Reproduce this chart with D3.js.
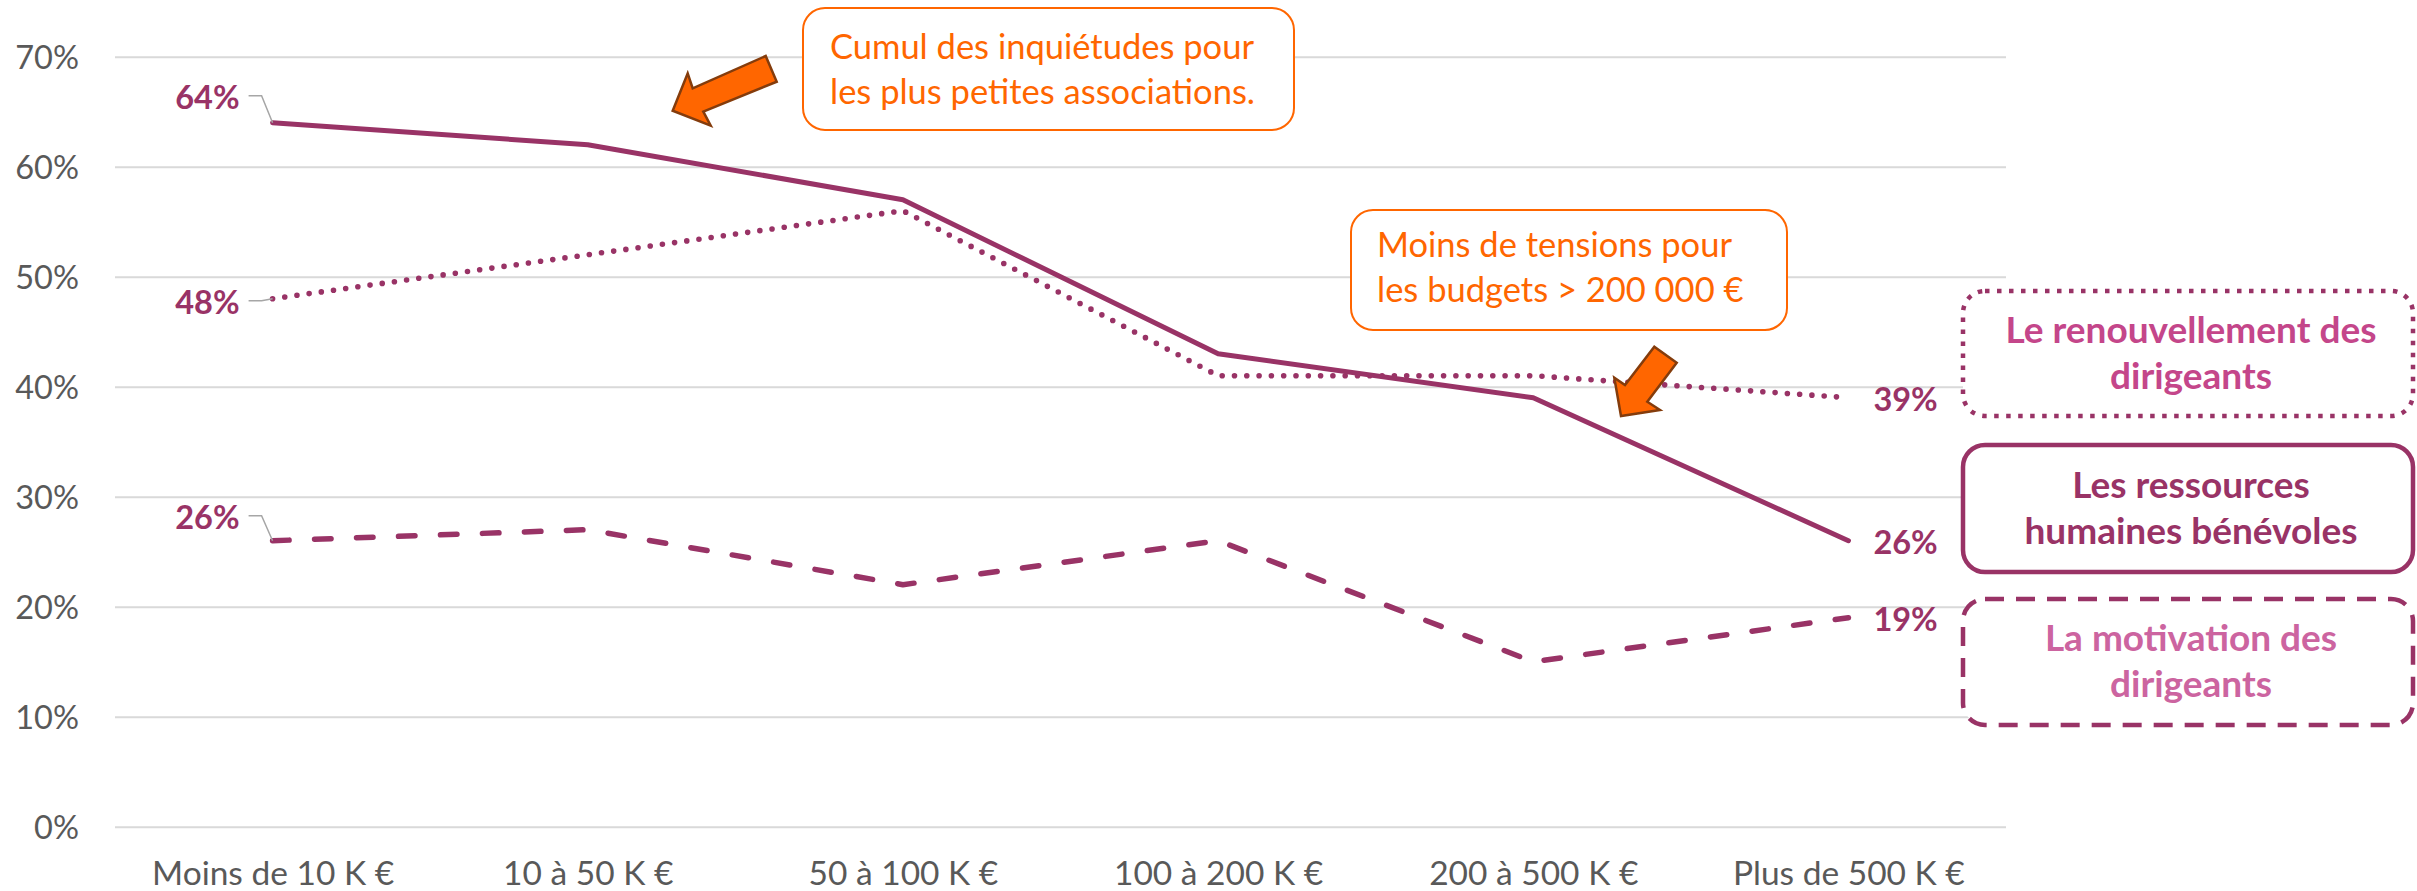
<!DOCTYPE html>
<html>
<head>
<meta charset="utf-8">
<script src="https://cdn.jsdelivr.net/npm/d3@7"></script>
<style>
  body { margin: 0; background: #fff; }
  text { font-family: Lato, "Open Sans", sans-serif; }
</style>
</head>
<body>
<script>
// budget classes
var categories = ["Moins de 10 K €", "10 à 50 K €", "50 à 100 K €",
                  "100 à 200 K €", "200 à 500 K €", "Plus de 500 K €"];
// % of associations worried, per budget class
var ressources = [64, 62, 57, 43, 39, 26];
var renouvellement = [48, 52, 56, 41, 41, 39];
var motivation = [26, 27, 22, 26, 15, 19];
var yTicks = [0, 10, 20, 30, 40, 50, 60, 70];
var legendLabels = [["Le renouvellement des", "dirigeants"],
                    ["Les ressources", "humaines bénévoles"],
                    ["La motivation des", "dirigeants"]];
var noteLabels = [["Cumul des inquiétudes pour", "les plus petites associations."],
                  ["Moins de tensions pour", "les budgets > 200 000 €"]];

var width = 2417;
var height = 891;
var plum = "#993366";
var orange = "#ff6600";

var svg = d3.select("body")
  .append("svg")
  .attr("width", width)
  .attr("height", height);

var x = d3.scalePoint()
  .domain(categories)
  .range([115, 2006])
  .padding(0.5);

var y = d3.scaleLinear()
  .domain([0, 70])
  .range([826.7, 56.7]);

// gridlines and y labels
var yAxis = svg.append("g")
  .attr("transform", "translate(115,0)")
  .call(d3.axisLeft(y)
    .tickValues(yTicks)
    .tickSize(-(2006 - 115))
    .tickPadding(36)
    .tickFormat(function(d) { return d + "%"; }));
yAxis.attr("font-size", 32.5).attr("font-family", "Lato, sans-serif");
yAxis.select(".domain").remove();
yAxis.selectAll("line").attr("stroke", "#d9d9d9").attr("stroke-width", 2);
yAxis.selectAll("text").attr("fill", "#595959").attr("dy", "0.36em");

// category labels
var xAxis = svg.append("g")
  .attr("transform", "translate(0," + y(0) + ")")
  .call(d3.axisBottom(x).tickSize(0).tickPadding(35));
xAxis.attr("font-size", 33.5).attr("font-family", "Lato, sans-serif");
xAxis.select(".domain").remove();
xAxis.selectAll("text").attr("fill", "#595959");

var series = [
  { values: renouvellement, dash: "0,12.3", width: 5.6, firstDy: 4,
    box: [291, 416], boxDash: "4.5,7.5", textColor: "#c4468a", label: legendLabels[0] },
  { values: ressources, dash: null, width: 5, firstDy: -25,
    box: [445, 572], boxDash: null, textColor: plum, label: legendLabels[1] },
  { values: motivation, dash: "16.5,25.5", width: 5.5, firstDy: -23,
    box: [599, 725], boxDash: "19,12", textColor: "#cc64a0", label: legendLabels[2] }
];

var line = d3.line()
  .x(function(d, i) { return x(categories[i]); })
  .y(function(d) { return y(d); });

svg.selectAll("path.serie")
  .data(series)
  .enter()
  .append("path")
  .attr("class", "serie")
  .attr("d", function(s) { return line(s.values); })
  .attr("fill", "none")
  .attr("stroke", plum)
  .attr("stroke-width", function(s) { return s.width; })
  .attr("stroke-linecap", "round")
  .attr("stroke-linejoin", "round")
  .attr("stroke-dasharray", function(s) { return s.dash; });

// leader lines for the first labels
var x0 = x(categories[0]);
var xN = x(categories[categories.length - 1]);
svg.selectAll("path.leader")
  .data(series)
  .enter()
  .append("path")
  .attr("class", "leader")
  .attr("d", function(s) {
    var v = s.values[0];
    var ly = y(v) + s.firstDy - 2;
    return "M" + (x0 - 24) + "," + ly + "H" + (x0 - 11) + "L" + x0 + "," + y(v);
  })
  .attr("fill", "none")
  .attr("stroke", "#a6a6a6")
  .attr("stroke-width", 1.5);

svg.selectAll("text.first")
  .data(series)
  .enter()
  .append("text")
  .attr("class", "first")
  .text(function(s) { return s.values[0] + "%"; })
  .attr("x", x0 - 33)
  .attr("y", function(s) { return y(s.values[0]) + s.firstDy; })
  .attr("dy", "0.36em")
  .attr("text-anchor", "end")
  .attr("font-size", 32.5)
  .attr("font-weight", "bold")
  .attr("fill", plum);

svg.selectAll("text.last")
  .data(series)
  .enter()
  .append("text")
  .attr("class", "last")
  .text(function(s) { return s.values[s.values.length - 1] + "%"; })
  .attr("x", xN + 25)
  .attr("y", function(s) { return y(s.values[s.values.length - 1]) + 2; })
  .attr("dy", "0.36em")
  .attr("font-size", 32.5)
  .attr("font-weight", "bold")
  .attr("fill", plum);

// legend boxes on the right
var legend = svg.selectAll("g.legend")
  .data(series)
  .enter()
  .append("g")
  .attr("class", "legend");

legend.append("rect")
  .attr("x", 1963)
  .attr("y", function(s) { return s.box[0]; })
  .attr("width", 450)
  .attr("height", function(s) { return s.box[1] - s.box[0]; })
  .attr("rx", 22)
  .attr("fill", "#fff")
  .attr("stroke", plum)
  .attr("stroke-width", 4.5)
  .attr("stroke-dasharray", function(s) { return s.boxDash; });

legend.append("text")
  .attr("x", 2191)
  .attr("y", function(s) { return (s.box[0] + s.box[1]) / 2 - 11; })
  .attr("text-anchor", "middle")
  .attr("font-size", 37)
  .attr("font-weight", "bold")
  .attr("fill", function(s) { return s.textColor; })
  .selectAll("tspan")
  .data(function(s) { return s.label; })
  .enter()
  .append("tspan")
  .attr("x", 2191)
  .attr("dy", function(d, i) { return i === 0 ? 0 : 46; })
  .text(function(d) { return d; });

// orange notes
var notes = [
  { box: [803, 8, 491, 122], text: noteLabels[0], tx: 830, ty: 59 },
  { box: [1351, 210, 436, 120], text: noteLabels[1], tx: 1377, ty: 257 }
];

var note = svg.selectAll("g.note")
  .data(notes)
  .enter()
  .append("g")
  .attr("class", "note");

note.append("rect")
  .attr("x", function(n) { return n.box[0]; })
  .attr("y", function(n) { return n.box[1]; })
  .attr("width", function(n) { return n.box[2]; })
  .attr("height", function(n) { return n.box[3]; })
  .attr("rx", 22)
  .attr("fill", "#fff")
  .attr("stroke", orange)
  .attr("stroke-width", 2);

note.append("text")
  .attr("font-size", 34.5)
  .attr("fill", orange)
  .selectAll("tspan")
  .data(function(n) { return n.text.map(function(t, i) { return { t: t, x: n.tx, y: n.ty + i * 45 }; }); })
  .enter()
  .append("tspan")
  .attr("x", function(d) { return d.x; })
  .attr("y", function(d) { return d.y; })
  .text(function(d) { return d.t; });

// block arrows
var arrows = [
  [[672.7, 110.7], [687.7, 73.3], [692.7, 88.3], [765.7, 56], [776.7, 81.7], [703.3, 111.7], [710.7, 125.7]],
  [[1621, 416], [1614.3, 377.7], [1625, 385], [1654.3, 346.7], [1676.7, 362.7], [1647.3, 401.7], [1660, 410]]
];

svg.selectAll("polygon.arrow")
  .data(arrows)
  .enter()
  .append("polygon")
  .attr("class", "arrow")
  .attr("points", function(p) { return p.map(function(q) { return q.join(","); }).join(" "); })
  .attr("fill", orange)
  .attr("stroke", "#843c0c")
  .attr("stroke-width", 2.5)
  .attr("stroke-linejoin", "miter");
</script>
</body>
</html>
